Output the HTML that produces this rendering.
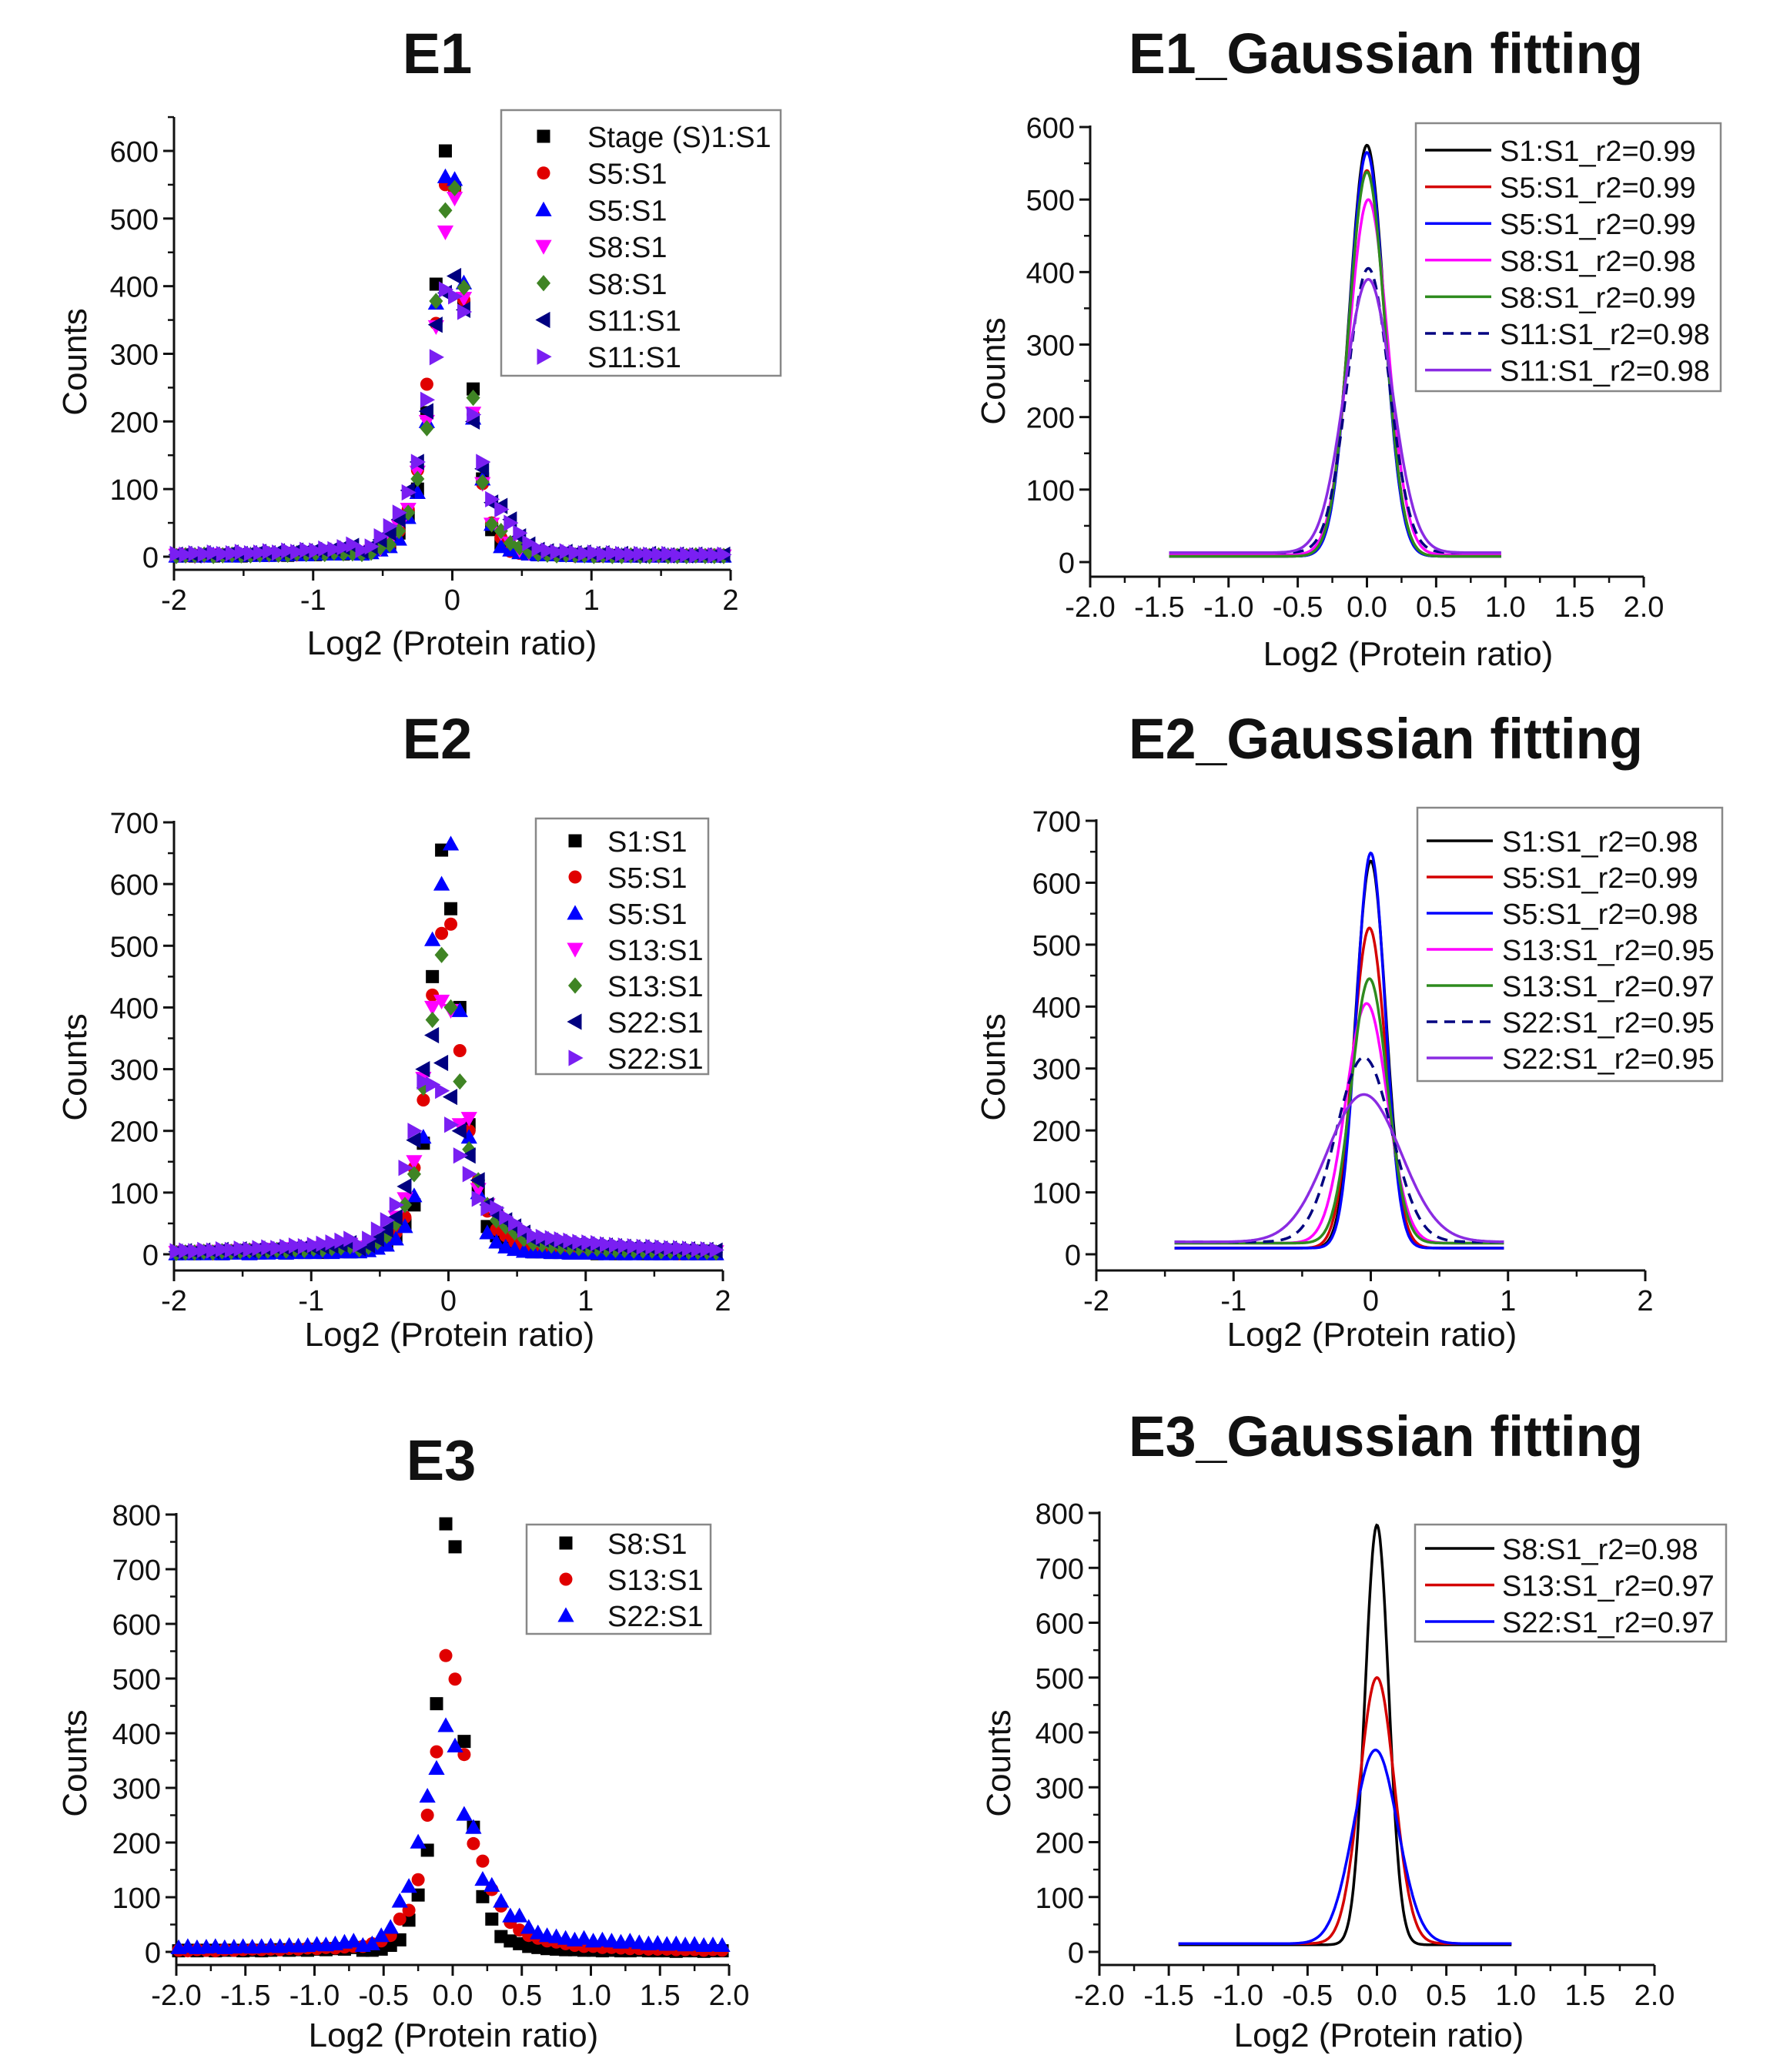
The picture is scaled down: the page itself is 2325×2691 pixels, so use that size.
<!DOCTYPE html>
<html><head><meta charset="utf-8"><title>E1-E3 protein ratio distributions</title>
<style>
html,body{margin:0;padding:0;background:#fff}
svg{display:block}
text{font-family:"Liberation Sans",Arial,sans-serif;fill:#111}
.title{font-weight:bold}
</style></head>
<body>
<svg id="fig" xmlns="http://www.w3.org/2000/svg" width="2325" height="2691" viewBox="0 0 2325 2691"></svg>
<script>
// ---------- shared bins ----------
const bins = [-1.983,-1.917,-1.85,-1.783,-1.717,-1.65,-1.583,-1.517,-1.45,-1.383,-1.317,-1.25,-1.183,-1.117,-1.05,-0.983,-0.917,-0.85,-0.783,-0.717,
 -0.65,-0.583,-0.517,-0.45,-0.383,-0.317,-0.25,-0.183,-0.117,-0.05,0.017,0.083,0.15,0.217,0.283,0.35,0.417,0.483,0.55,0.617,
 0.683,0.75,0.817,0.883,0.95,1.017,1.083,1.15,1.217,1.283,1.35,1.417,1.483,1.55,1.617,1.683,1.75,1.817,1.883,1.95];

// ---------- E1 scatter ----------
const e1Names = ["Stage (S)1:S1","S5:S1","S5:S1","S8:S1","S8:S1","S11:S1","S11:S1"];
const e1S1 = [1,2,1,2,1,2,2,1,2,3,2,3,2,3,4,3,4,5,4,6, 5,8,12,20,35,60,100,213,403,600,545,370,248,115,40,20,12,8,5,3, 4,3,2,3,2,1,2,1,2,1,1,2,1,1,2,1,1,1,2,1];
const e1S5a = [2,1,2,1,2,3,1,2,2,3,3,2,4,3,3,5,4,4,6,5, 4,6,10,18,38,70,128,255,345,550,540,380,210,108,50,28,8,5,4,3, 3,2,3,1,2,2,1,2,1,2,1,1,2,1,1,2,1,1,1,2];
const e1S5b = [1,2,2,1,3,2,1,2,3,2,2,3,3,4,3,4,5,4,5,6, 4,6,10,15,26,58,95,200,375,562,558,405,205,115,48,15,10,6,4,3, 3,3,2,2,1,2,2,1,2,1,2,1,1,2,1,1,2,1,1,1];
const e1S8a = [2,3,1,2,3,2,3,2,3,4,3,4,5,4,5,6,5,7,8,6, 5,8,12,22,45,70,125,200,340,480,530,382,212,108,48,35,20,10,6,4, 4,3,3,2,3,2,2,1,2,2,1,2,1,2,1,1,2,1,2,1];
const e1S8b = [1,2,2,3,1,2,3,2,2,3,4,3,3,5,4,5,4,6,5,5, 4,6,14,18,38,65,115,190,378,512,545,398,235,110,48,38,20,14,8,4, 3,2,3,2,2,1,2,1,1,2,1,1,2,1,1,1,2,1,1,1];
const e1S11a = [3,4,2,5,3,4,6,4,5,7,5,8,6,9,8,10,9,12,14,16, 8,15,25,35,55,98,140,215,343,390,415,365,200,130,80,75,55,30,18,10, 8,6,7,5,6,4,5,3,4,3,2,4,3,2,3,2,3,2,2,3];
const e1S11b = [4,3,5,4,6,4,5,7,5,6,8,6,9,7,10,9,12,11,14,18, 10,15,30,45,65,95,140,232,295,395,385,362,210,140,85,70,50,35,20,12, 9,7,8,6,5,6,4,5,4,3,4,3,3,4,2,3,2,3,2,3];
const e1Series = [e1S1,e1S5a,e1S5b,e1S8a,e1S8b,e1S11a,e1S11b];

// ---------- E2 scatter ----------
const e2Names = ["S1:S1","S5:S1","S5:S1","S13:S1","S13:S1","S22:S1","S22:S1"];
const e2S1 = [1,2,1,2,2,1,2,3,2,2,3,3,2,4,3,4,3,4,5,4, 5,8,12,18,30,50,80,180,450,655,560,400,210,100,45,30,15,10,6,4, 4,3,3,2,2,2,1,2,1,1,2,1,1,1,2,1,1,1,1,1];
const e2S5a = [2,1,2,2,1,3,2,2,3,2,3,4,3,3,4,5,4,5,4,6, 5,8,12,20,35,60,140,250,420,520,535,330,200,120,70,40,30,20,12,8, 8,6,6,5,4,4,3,3,3,2,2,3,2,2,2,1,2,1,2,1];
const e2S5b = [1,1,2,1,2,1,2,2,1,2,2,3,2,3,3,3,4,3,4,4, 4,6,10,15,25,45,95,190,510,600,665,395,190,100,35,20,12,8,5,4, 4,3,3,2,2,2,2,1,2,1,1,2,1,1,1,2,1,1,1,1];
const e2S13a = [3,4,3,5,4,5,6,5,7,6,8,7,9,8,10,11,10,12,14,16, 8,12,20,35,60,90,150,285,400,410,395,210,220,105,80,60,45,35,25,18, 16,14,13,12,11,10,9,9,8,8,7,7,6,6,6,5,5,5,4,4];
const e2S13b = [2,3,3,4,3,5,4,5,6,5,6,7,6,8,7,9,8,10,11,13, 8,12,20,30,50,80,130,270,380,485,400,280,170,120,80,55,45,35,25,18, 16,14,12,11,10,9,9,8,7,7,6,6,6,5,5,5,4,4,4,3];
const e2S22a = [4,5,4,6,5,7,6,8,7,9,8,10,9,11,12,11,13,14,16,18, 10,15,25,40,60,110,185,300,355,310,255,200,160,120,80,65,55,45,35,25, 24,22,20,18,17,16,15,14,13,12,11,11,10,9,9,8,8,7,7,6];
const e2S22b = [5,6,5,7,6,8,7,9,8,10,11,10,12,14,13,15,17,19,22,25, 15,25,40,55,80,140,200,280,275,265,210,160,130,90,75,75,60,50,40,30, 28,26,24,22,20,19,18,16,15,14,13,12,12,11,10,10,9,8,8,7];
const e2Series = [e2S1,e2S5a,e2S5b,e2S13a,e2S13b,e2S22a,e2S22b];

// ---------- E3 scatter ----------
const e3Names = ["S8:S1","S13:S1","S22:S1"];
const e3S8 = [2,3,2,3,2,3,3,2,3,2,3,4,3,4,3,5,4,6,5,8, 3,3,5,12,22,58,104,186,454,783,741,385,228,101,60,28,20,15,10,8, 6,5,4,4,3,3,2,3,2,2,3,2,2,2,1,2,2,1,2,2];
const e3S13 = [3,2,4,3,2,4,3,4,5,4,5,4,6,5,7,6,8,7,9,10, 10,15,20,30,60,76,132,250,366,542,499,361,198,166,114,84,54,40,30,25, 20,18,15,12,10,10,8,8,7,6,6,5,5,5,4,4,4,3,4,3];
const e3S22 = [8,10,8,9,10,8,9,10,9,10,11,10,12,11,12,14,13,15,18,20, 12,15,30,45,93,120,201,285,336,414,377,252,228,133,122,93,66,66,45,35, 30,28,25,22,25,20,22,20,18,20,17,15,16,14,15,13,14,12,13,12];
const e3Series = [e3S8,e3S13,e3S22];

// ---------- Gaussian fit parameters ----------
const g1Labels = ["S1:S1_r2=0.99","S5:S1_r2=0.99","S5:S1_r2=0.99","S8:S1_r2=0.98","S8:S1_r2=0.99","S11:S1_r2=0.98","S11:S1_r2=0.98"];
const g1Peaks = [575,540,565,500,538,405,390];
const g1Centers = [0.0,0.0,0.0,0.01,0.0,0.01,0.01];
const g1Sigmas = [0.125,0.13,0.125,0.14,0.13,0.15,0.17];
const g1Base = [8,8,8,10,8,13,13];
const g1Range = [-1.43,0.97];

const g2Labels = ["S1:S1_r2=0.98","S5:S1_r2=0.99","S5:S1_r2=0.98","S13:S1_r2=0.95","S13:S1_r2=0.97","S22:S1_r2=0.95","S22:S1_r2=0.95"];
const g2Peaks = [635,527,648,405,445,318,258];
const g2Centers = [0.0,-0.01,0.0,-0.03,-0.01,-0.05,-0.05];
const g2Sigmas = [0.11,0.12,0.105,0.15,0.13,0.2,0.27];
const g2Base = [10,10,10,18,18,20,20];
const g2Range = [-1.43,0.97];

const g3Labels = ["S8:S1_r2=0.98","S13:S1_r2=0.97","S22:S1_r2=0.97"];
const g3Peaks = [778,500,368];
const g3Centers = [0.0,0.0,-0.01];
const g3Sigmas = [0.085,0.125,0.16];
const g3Base = [13,15,15];
const g3Range = [-1.43,0.97];

// ---------- tick labels ----------
const xTicksInt = [-2,-1,0,1,2];
const xTickLabelsInt = ["-2","-1","0","1","2"];
const xTicksHalf = [-2,-1.5,-1,-0.5,0,0.5,1,1.5,2];
const xTickLabelsHalf = ["-2.0","-1.5","-1.0","-0.5","0.0","0.5","1.0","1.5","2.0"];
const yTicks600 = [0,100,200,300,400,500,600];
const yTicks700 = [0,100,200,300,400,500,600,700];
const yTicks800 = [0,100,200,300,400,500,600,700,800];

const scatterColors = ["#000000","#e00000","#0000ff","#ff00ff","#3f8424","#000080","#7a1ff2"];
const scatterShapes = ["square","circle","up","down","diamond","left","right"];
const e3Colors = ["#000000","#e00000","#0000ff"];
const lineColors = ["#000000","#d40000","#0000ff","#ff00ff","#2e8b1e","#000080","#8a2be2"];
const e3LineColors = ["#000000","#d40000","#0000ff"];

const NS = "http://www.w3.org/2000/svg";
const svg = document.getElementById("fig");
function mk(tag, parent){ const e=document.createElementNS(NS,tag); parent.appendChild(e); return e; }
function panel(cfg){
  return {
    sx: v => cfg.x0 + (v - cfg.xmin) * (cfg.x1 - cfg.x0) / (cfg.xmax - cfg.xmin),
    sy: v => cfg.y0 - v * (cfg.y0 - cfg.yTopPx) / cfg.yTopVal
  };
}
function drawAxes(g, cfg, sc, xt, xl, xminor, yt, yminor){
  const ax = mk("path", g);
  
  
  ax.setAttribute("d", `M${cfg.x0},${cfg.axTop} L${cfg.x0},${cfg.axBottom} L${cfg.x1},${cfg.axBottom}`);
  ax.setAttribute("fill","none"); ax.setAttribute("stroke","#111"); ax.setAttribute("stroke-width","3");
  xt.forEach((v,i)=>{
    const x = sc.sx(v);
    const t = mk("line", g);
    
    
    t.setAttribute("x1",x); t.setAttribute("x2",x); t.setAttribute("y1",cfg.axBottom); t.setAttribute("y2",cfg.axBottom+14);
    t.setAttribute("stroke","#111"); t.setAttribute("stroke-width","3");
    const l = mk("text", g);
    
    
    l.setAttribute("x",x); l.setAttribute("y",cfg.axBottom+52); l.setAttribute("text-anchor","middle"); l.setAttribute("font-size","38");
    l.textContent = xl[i];
  });
  for(let v=cfg.xmin+xminor; v<cfg.xmax; v+=xminor*2){
    const x = sc.sx(v);
    const t = mk("line", g);
    
    
    t.setAttribute("x1",x); t.setAttribute("x2",x); t.setAttribute("y1",cfg.axBottom); t.setAttribute("y2",cfg.axBottom+8);
    t.setAttribute("stroke","#111"); t.setAttribute("stroke-width","2.5");
  }
  yt.forEach(v=>{
    const y = sc.sy(v);
    const t = mk("line", g);
    
    
    t.setAttribute("x1",cfg.x0-14); t.setAttribute("x2",cfg.x0); t.setAttribute("y1",y); t.setAttribute("y2",y);
    t.setAttribute("stroke","#111"); t.setAttribute("stroke-width","3");
    const l = mk("text", g);
    
    
    l.setAttribute("x",cfg.x0-20); l.setAttribute("y",y+14); l.setAttribute("text-anchor","end"); l.setAttribute("font-size","38");
    l.textContent = String(v);
  });
  for(let v=yminor; v<yt[yt.length-1]+ (cfg.extraMinor||0); v+=yminor*2){
    const y = sc.sy(v);
    const t = mk("line", g);
    
    
    t.setAttribute("x1",cfg.x0-8); t.setAttribute("x2",cfg.x0); t.setAttribute("y1",y); t.setAttribute("y2",y);
    t.setAttribute("stroke","#111"); t.setAttribute("stroke-width","2.5");
  }
  const xtit = mk("text", g);
  
  
  xtit.setAttribute("x",cfg.xTitle[0]); xtit.setAttribute("y",cfg.xTitle[1]); xtit.setAttribute("text-anchor","middle"); xtit.setAttribute("font-size","44");
  xtit.textContent = "Log2 (Protein ratio)";
  const ytit = mk("text", g);
  
  
  ytit.setAttribute("transform",`translate(${cfg.yTitle[0]},${cfg.yTitle[1]}) rotate(-90)`); ytit.setAttribute("text-anchor","middle"); ytit.setAttribute("font-size","44");
  ytit.textContent = "Counts";
  const tt = mk("text", g);
  
  
  tt.setAttribute("class","title"); tt.setAttribute("x",cfg.title[0]); tt.setAttribute("y",cfg.title[1]); tt.setAttribute("text-anchor","middle"); tt.setAttribute("font-size","74");
  if(cfg.titleLen){ tt.setAttribute("textLength",cfg.titleLen); tt.setAttribute("lengthAdjust","spacingAndGlyphs"); }
  tt.textContent = cfg.titleText;
}
function marker(g, shape, color, x, y){
  const s = 8.5;
  let e;
  if(shape==="circle"){ e = mk("circle", g); e.setAttribute("cx",x); e.setAttribute("cy",y); e.setAttribute("r",s); }
  else if(shape==="square"){ e = mk("rect", g); e.setAttribute("x",x-s); e.setAttribute("y",y-s); e.setAttribute("width",2*s); e.setAttribute("height",2*s); }
  else {
    const t = s*1.25; let pts;
    if(shape==="up") pts=[[x,y-t],[x+t,y+t*0.8],[x-t,y+t*0.8]];
    else if(shape==="down") pts=[[x,y+t],[x+t,y-t*0.8],[x-t,y-t*0.8]];
    else if(shape==="left") pts=[[x-t,y],[x+t*0.8,y-t],[x+t*0.8,y+t]];
    else if(shape==="right") pts=[[x+t,y],[x-t*0.8,y-t],[x-t*0.8,y+t]];
    else pts=[[x,y-t],[x+t*0.85,y],[x,y+t],[x-t*0.85,y]];
    e = mk("polygon", g); e.setAttribute("points", pts.map(p=>p.join(",")).join(" "));
  }
  e.setAttribute("fill", color);
  return e;
}
function legendBox(g, box){
  const r = mk("rect", g);
  
  
  r.setAttribute("x",box[0]); r.setAttribute("y",box[1]); r.setAttribute("width",box[2]-box[0]); r.setAttribute("height",box[3]-box[1]);
  r.setAttribute("fill","#fff"); r.setAttribute("stroke","#888"); r.setAttribute("stroke-width","2.5");
}
function scatterPanel(cfg, series, names, colors, shapes, xt, xl, xminor, yt){
  const g = mk("g", svg);
  
  
  const sc = panel(cfg);
  drawAxes(g, cfg, sc, xt, xl, xminor, yt, 50);
  series.forEach((vals, si)=>{
    const sg = mk("g", g);
    
    
    vals.forEach((v, i)=>{
      const m = marker(sg, shapes[si], colors[si], sc.sx(bins[i]), sc.sy(v));
      
      
    });
  });
  legendBox(g, cfg.legend);
  names.forEach((n, i)=>{
    const y = cfg.legRow0 + i*cfg.legStep;
    const m = marker(g, shapes[i], colors[i], cfg.legMarkX, y);
    
    
    const t = mk("text", g);
    
    
    t.setAttribute("x",cfg.legTextX); t.setAttribute("y",y+14); t.setAttribute("font-size","38");
    t.textContent = n;
  });
}
function gaussPanel(cfg, labels, peaks, centers, sigmas, base, range, colors, dashedIdx, xt, xl, xminor, yt){
  const g = mk("g", svg);
  
  
  const sc = panel(cfg);
  drawAxes(g, cfg, sc, xt, xl, xminor, yt, 50);
  labels.forEach((lab, si)=>{
    let d = "";
    const n = 400;
    for(let k=0;k<=n;k++){
      const x = range[0] + (range[1]-range[0])*k/n;
      const v = base[si] + (peaks[si]-base[si]) * Math.exp(-0.5*Math.pow((x-centers[si])/sigmas[si],2));
      d += (k?"L":"M") + sc.sx(x).toFixed(1) + "," + sc.sy(v).toFixed(1);
    }
    const p = mk("path", g);
    
    
    p.setAttribute("d", d); p.setAttribute("fill","none"); p.setAttribute("stroke", colors[si]); p.setAttribute("stroke-width","3.5");
    if(si===dashedIdx) p.setAttribute("stroke-dasharray","14,9");
  });
  legendBox(g, cfg.legend);
  labels.forEach((lab, i)=>{
    const y = cfg.legRow0 + i*cfg.legStep;
    const l = mk("line", g);
    
    
    l.setAttribute("x1",cfg.legLine[0]); l.setAttribute("x2",cfg.legLine[1]); l.setAttribute("y1",y); l.setAttribute("y2",y);
    l.setAttribute("stroke",colors[i]); l.setAttribute("stroke-width","3.5");
    if(i===dashedIdx) l.setAttribute("stroke-dasharray","14,9");
    const t = mk("text", g);
    
    
    t.setAttribute("x",cfg.legTextX); t.setAttribute("y",y+14); t.setAttribute("font-size","38");
    t.textContent = lab;
  });
}

scatterPanel({name:"e1-scatter-panel",x0:226,x1:949,xmin:-2,xmax:2,y0:723,yTopPx:196,yTopVal:600,axTop:152,axBottom:740,extraMinor:60,
  xTitle:[587,850],yTitle:[112,470],title:[568,95],titleText:"E1",
  legend:[651,143,1014,488],legRow0:177,legStep:47.7,legMarkX:706,legTextX:763},
  e1Series,e1Names,scatterColors,scatterShapes,xTicksInt,xTickLabelsInt,0.5,yTicks600);

gaussPanel({name:"e1-gaussian-panel",x0:1416,x1:2135,xmin:-2,xmax:2,y0:730,yTopPx:165,yTopVal:600,axTop:163,axBottom:749,
  xTitle:[1829,864],yTitle:[1305,482],title:[1800,95],titleText:"E1_Gaussian fitting",titleLen:668,
  legend:[1839,160,2235,508],legRow0:195,legStep:47.6,legLine:[1851,1937],legTextX:1948},
  g1Labels,g1Peaks,g1Centers,g1Sigmas,g1Base,g1Range,lineColors,5,xTicksHalf,xTickLabelsHalf,0.25,yTicks600);

scatterPanel({name:"e2-scatter-panel",x0:226,x1:939,xmin:-2,xmax:2,y0:1629,yTopPx:1068,yTopVal:700,axTop:1066,axBottom:1650,
  xTitle:[584,1748],yTitle:[112,1386],title:[568,985],titleText:"E2",
  legend:[696,1063,920,1395],legRow0:1092,legStep:47,legMarkX:747,legTextX:789},
  e2Series,e2Names,scatterColors,scatterShapes,xTicksInt,xTickLabelsInt,0.5,yTicks700);

gaussPanel({name:"e2-gaussian-panel",x0:1424,x1:2137,xmin:-2,xmax:2,y0:1629,yTopPx:1066,yTopVal:700,axTop:1064,axBottom:1650,
  xTitle:[1782,1748],yTitle:[1305,1386],title:[1800,985],titleText:"E2_Gaussian fitting",titleLen:668,
  legend:[1841,1049,2237,1404],legRow0:1092,legStep:47,legLine:[1853,1939],legTextX:1951},
  g2Labels,g2Peaks,g2Centers,g2Sigmas,g2Base,g2Range,lineColors,5,xTicksInt,xTickLabelsInt,0.5,yTicks700);

scatterPanel({name:"e3-scatter-panel",x0:229,x1:947,xmin:-2,xmax:2,y0:2535,yTopPx:1967,yTopVal:800,axTop:1965,axBottom:2552,
  xTitle:[589,2658],yTitle:[112,2290],title:[573,1922],titleText:"E3",
  legend:[684,1980,923,2122],legRow0:2004,legStep:47,legMarkX:735,legTextX:789},
  e3Series,e3Names,e3Colors,["square","circle","up"],xTicksHalf,xTickLabelsHalf,0.25,yTicks800);

gaussPanel({name:"e3-gaussian-panel",x0:1428,x1:2149,xmin:-2,xmax:2,y0:2535,yTopPx:1965,yTopVal:800,axTop:1963,axBottom:2552,
  xTitle:[1791,2658],yTitle:[1312,2290],title:[1800,1891],titleText:"E3_Gaussian fitting",titleLen:668,
  legend:[1838,1980,2242,2132],legRow0:2011,legStep:47.5,legLine:[1851,1941],legTextX:1951},
  g3Labels,g3Peaks,g3Centers,g3Sigmas,g3Base,g3Range,e3LineColors,-1,xTicksHalf,xTickLabelsHalf,0.25,yTicks800);
</script>
</body></html>
